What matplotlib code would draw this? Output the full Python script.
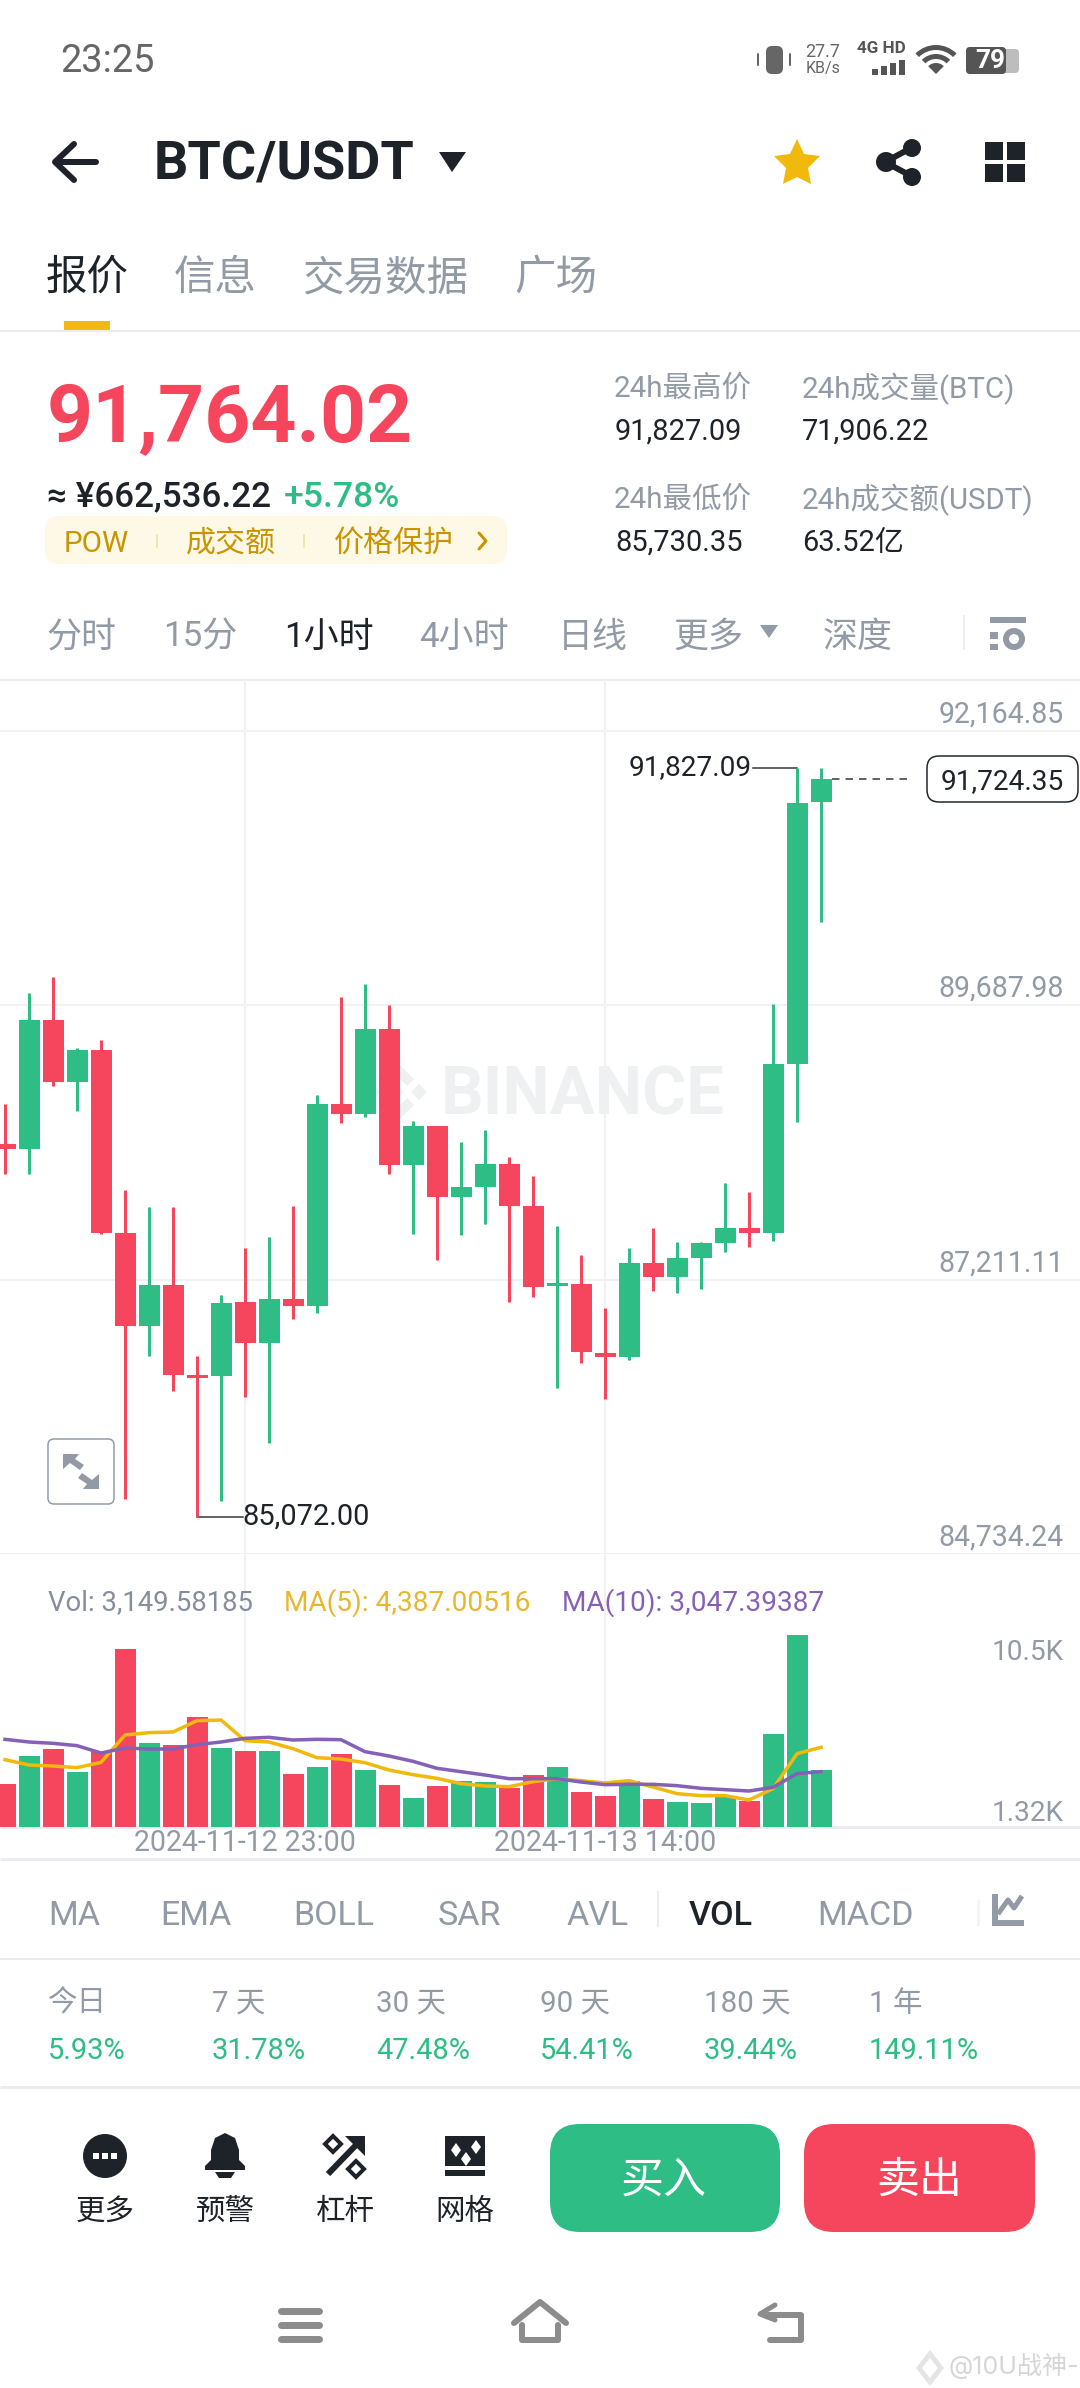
import matplotlib
matplotlib.use('Agg')
import matplotlib.pyplot as plt
from matplotlib.patches import FancyBboxPatch, Polygon, Circle, Rectangle, Wedge
from matplotlib.transforms import blended_transform_factory, ScaledTranslation

# candles, left to right
opens = [88430, 88389, 89549, 88992, 89286, 87634, 86793, 87158, 86353, 86338, 87006, 86641,
         87031, 86976, 88799, 88708, 89473, 88247, 88592, 87958, 88045, 88257, 87872, 87148,
         87173, 86550, 86510, 87356, 87234, 87406, 87543, 87675, 87634, 89154, 91520]
closes = [88389, 89549, 88992, 89281, 87634, 86793, 87158, 86353, 86322, 87001, 86641, 87031,
          86976, 88799, 88708, 89473, 88247, 88592, 87958, 88045, 88257, 87872, 87143, 87178,
          86555, 86510, 87356, 87234, 87401, 87538, 87675, 87634, 89154, 91515, 91727]
highs = [88799, 89797, 89944, 89296, 89372, 88019, 87862, 87862, 86520, 87072, 87492, 87599,
         87877, 88875, 89762, 89873, 89686, 88637, 88592, 88450, 88561, 88318, 88146, 87695,
         87432, 86950, 87492, 87680, 87553, 87553, 88080, 87999, 89696, 91827.09, 91829]
lows = [88166, 88166, 88961, 88728, 87624, 85233, 86525, 86206, 85072, 85213, 86150, 85735,
        86854, 86910, 88622, 88678, 88166, 87619, 87386, 87609, 87715, 87011, 87052, 86231,
        86454, 86135, 86484, 87107, 87087, 87128, 87457, 87508, 87558, 88632, 90436]
volumes = [2362, 3882, 4266, 3003, 4120, 9759, 4614, 4523, 6024, 4358, 4175, 4193, 2930, 3314,
           4010, 3113, 2289, 1611, 2270, 2508, 2472, 2124, 2875, 3314, 1941, 1685, 2545, 1520,
           1392, 1318, 1630, 1410, 5108, 10528, 3150]
ma5 = [3699, 3406, 3351, 3259, 3552, 5054, 5182, 5218, 5841, 5878, 4742, 4669, 4303, 3808, 3735,
       3534, 3131, 2875, 2673, 2380, 2252, 2216, 2490, 2655, 2545, 2417, 2545, 2197, 1831, 1721,
       1721, 1483, 2106, 4028, 4376]
ma10 = [4816, 4669, 4596, 4468, 4065, 4339, 4285, 4285, 4523, 4669, 4870, 4925, 4779, 4816, 4797,
        4138, 3900, 3607, 3223, 3039, 2856, 2655, 2655, 2655, 2472, 2325, 2344, 2344, 2270, 2124,
        2051, 1977, 2179, 2930, 3039]
price_ticks = [92164.85, 89687.98, 87211.11, 84734.24]
date_ticks = [10, 25]
date_labels = ['2024-11-12 23:00', '2024-11-13 14:00']

GREEN = '#2EBD85'
RED = '#F6465D'
DARK = '#1E2329'
GREY = '#929AA5'
W, H = 1080, 2388
FONT = ['Inter', 'Noto Sans CJK SC', 'DejaVu Sans']

fig = plt.figure(figsize=(W / 100, H / 100), dpi=100, facecolor='white')

# everything that is not the chart sits on a full page axes in pixels
ui = fig.add_axes([0, 0, 1, 1], zorder=0)
ui.set_xlim(0, W)
ui.set_ylim(H, 0)
ui.axis('off')
# second page axes above the charts, for the text that lies over the grid
top = fig.add_axes([0, 0, 1, 1], zorder=5)
top.set_xlim(0, W)
top.set_ylim(H, 0)
top.axis('off')


def px(size):
    return size * 0.72


def T(x, y, s, size, color=DARK, ha='left', weight='normal', ax=ui, family=None):
    return ax.text(x, y + 0.09 * size, s, fontsize=px(size), color=color, ha=ha, va='center', weight=weight,
                   family=family or FONT, zorder=6)


def hline(y, lw=2, color='#EAECEF'):
    ui.plot([0, W], [y, y], color=color, lw=px(lw), solid_capstyle='butt')


def poly(points, color, zorder=5):
    ui.add_patch(Polygon(points, closed=True, fc=color, ec='none', zorder=zorder))


def rect(x0, y0, x1, y1, color, zorder=5):
    ui.add_patch(Rectangle((x0, y0), x1 - x0, y1 - y0, fc=color, ec='none', zorder=zorder))


def rbox(x0, y0, x1, y1, r, fc, ec='none', lw=0, zorder=3):
    ui.add_patch(FancyBboxPatch((x0 + r, y0 + r), x1 - x0 - 2 * r, y1 - y0 - 2 * r,
                                boxstyle='round,pad=%d,rounding_size=%d' % (r, r),
                                fc=fc, ec=ec, lw=lw, zorder=zorder))


def stroke(xs, ys, color, lw, cap='round'):
    ui.plot(xs, ys, color=color, lw=px(lw), solid_capstyle=cap, solid_joinstyle='round', zorder=5)


# status bar
T(60, 58, '23:25', 38, '#666666', family=['Roboto'])
rbox(766, 46, 783, 74, 6, '#666666', zorder=5)
stroke([758, 758], [54, 65], '#666666', 2)
stroke([790, 790], [54, 65], '#666666', 2)
T(823, 50, '27.7', 18, '#666666', ha='center', family=['Roboto'])
T(823, 67, 'KB/s', 16, '#666666', ha='center', family=['Roboto'])
T(881, 47, '4G HD', 17, '#555555', ha='center', weight='bold', family=['Roboto'])
for bx, bh in zip([872, 881, 890, 899], [6, 9, 12, 15]):
    rect(bx, 75 - bh, bx + 6, 75, '#555555')
for wr, ww in zip([29, 20, 11], [5, 5, 11]):
    ui.add_patch(Wedge((936, 74), wr, 225, 315, width=ww, fc='#555555', ec='none', zorder=5))
rbox(966, 47, 1006, 74, 4, '#555555', zorder=5)
rbox(1000, 49, 1019, 73, 4, '#BDBDBD', zorder=4)
T(990, 59, '79', 26, 'white', ha='center', weight='bold', family=['Roboto'])

# title row
stroke([96, 56], [162, 162], DARK, 6)
stroke([74, 55, 74], [144, 162, 180], DARK, 6)
T(154, 160, 'BTC/USDT', 54, DARK, weight='bold', family=['Roboto'])
poly([(439, 152), (466, 152), (452, 172)], DARK)
poly([(797, 139), (804, 154), (820, 156), (808, 168), (811, 184), (797, 177), (783, 184),
      (786, 168), (774, 156), (790, 154)], '#F0B90B')
stroke([913, 885, 913], [147, 162, 177], DARK, 6)
for cx, cy, r in [(912, 148, 9), (886, 162, 10), (912, 177, 9)]:
    ui.add_patch(Circle((cx, cy), r, fc=DARK, ec='none', zorder=5))
for x0, y0 in [(985, 142), (1007, 142), (985, 164), (1007, 164)]:
    rect(x0, y0, x0 + 18, y0 + 18, DARK)

# tabs
for x, s, c in zip([46, 174, 302, 514], ['报价', '信息', '交易数据', '广场'], [DARK, GREY, GREY, GREY]):
    T(x, 275, s, 41.5, c)
rect(64, 321, 110, 330, '#F0B90B')
hline(331)

# price block
T(47, 412, '91,764.02', 80.5, RED, weight='bold', family=['Roboto'])
T(47, 494, '≈ ¥662,536.22', 35, DARK, weight='medium', family=['Roboto'])
T(284, 494, '+5.78%', 35.5, GREEN, weight='medium', family=['Roboto'])
rbox(45, 516, 507, 564, 14, '#FEF8E6')
gold = '#C99400'
T(64, 541, 'POW', 29.5, gold, family=['Roboto'])
T(186, 541, '成交额', 30, gold)
T(334, 541, '价格保护', 30, gold)
stroke([157, 157], [535, 547], '#F3E3B0', 2)
stroke([304, 304], [535, 547], '#F3E3B0', 2)
stroke([479, 486, 479], [533, 541, 549], gold, 3)

stat_font = ['Roboto', 'Noto Sans CJK SC']
T(614, 386, '24h最高价', 29.5, GREY, family=stat_font)
T(802, 386, '24h成交量(BTC)', 29.5, GREY, family=stat_font)
T(615, 429, '91,827.09', 29, DARK, family=stat_font)
T(802, 429, '71,906.22', 29, DARK, family=stat_font)
T(614, 497, '24h最低价', 29.5, GREY, family=stat_font)
T(802, 497, '24h成交额(USDT)', 29.5, GREY, family=stat_font)
T(615, 540, '85,730.35', 29, DARK, family=stat_font)
T(802, 540, '63.52亿', 29, DARK, family=stat_font)

# interval row
for x, s, c in zip([46, 163, 284, 419, 558, 673, 823],
                   ['分时', '15分', '1小时', '4小时', '日线', '更多', '深度'],
                   [GREY, GREY, DARK, GREY, GREY, GREY, GREY]):
    T(x, 634, s, 35, c, family=stat_font)
poly([(760, 625), (778, 625), (769, 638)], GREY)
stroke([964, 964], [615, 650], '#EAECEF', 2, cap='butt')
rect(990, 617, 1026, 623, GREY)
rect(990, 632, 998, 639, GREY)
rect(990, 644, 998, 650, GREY)
ui.add_patch(Circle((1014, 639), 8, fc='none', ec=GREY, lw=px(6), zorder=5))
hline(680)

# watermark goes under the candles
wm = '#EEF0F1'
poly([(396, 1061), (414, 1079), (407, 1086), (396, 1075), (385, 1086), (378, 1079)], wm)
poly([(396, 1123), (414, 1105), (407, 1098), (396, 1109), (385, 1098), (378, 1105)], wm)
for cx in [373, 396, 419]:
    poly([(cx, 1084), (cx + 8, 1092), (cx, 1100), (cx - 8, 1092)], wm)
T(441, 1090, 'BINANCE', 67, wm, weight='bold', family=['Roboto'])

# price chart
x_left = -5 / 24
x_right = (W - 5) / 24
per_px = 2476.87 / 274.5
ax = fig.add_axes([0, 1 - 1554 / H, 1, 874 / H], zorder=2)
ax.patch.set_alpha(0)
ax.set_xlim(x_left, x_right)
ax.set_ylim(price_ticks[-1], price_ticks[-1] + 874 * per_px)
for side in ax.spines.values():
    side.set_visible(False)
ax.set_xticks(date_ticks)
ax.set_yticks(price_ticks)
ax.set_yticklabels(['%s' % format(v, ',.2f') for v in price_ticks], family=['Roboto'])
ax.yaxis.tick_right()
ax.tick_params(axis='y', length=0, pad=px(-16), labelsize=px(28.5), labelcolor=GREY)
ax.tick_params(axis='x', length=0, labelbottom=False)
raise_px = ScaledTranslation(0, 2 / 100, fig.dpi_scale_trans)
for lab in ax.get_yticklabels():
    lab.set_ha('right')
    lab.set_va('bottom')
    lab.set_transform(lab.get_transform() + raise_px)
ax.grid(True, color='#F0F1F3', lw=px(2))
ax.set_axisbelow(True)

for i in range(len(opens)):
    col = GREEN if closes[i] >= opens[i] else RED
    ax.vlines(i, lows[i], highs[i], color=col, lw=px(3), zorder=3)
    ax.bar(i, abs(closes[i] - opens[i]), bottom=min(opens[i], closes[i]), width=0.875, color=col,
           lw=0, zorder=4)

# high / low / last price markers
hi = highs[33]
lo = lows[8]
last = 91724.35
ax.plot([31.15, 33], [hi, hi], color='#333333', lw=px(1.5), zorder=2)
ax.text(31.1, hi, format(hi, ',.2f'), ha='right', va='center', fontsize=px(28), color=DARK,
        family=['Roboto'], zorder=5)
ax.plot([8, 9.9], [lo, lo], color='#333333', lw=px(1.5), zorder=2)
ax.text(9.9, lo, format(lo, ',.2f'), ha='left', va='center', fontsize=px(29), color=DARK,
        family=['Roboto'], zorder=5)
ax.plot([34.45, 37.7], [last, last], color='#333333', lw=px(1.5), ls=(0, (5, 4)), zorder=2)
rbox(927, 756, 1078, 802, 12, 'white', ec=DARK, lw=px(1.5), zorder=1)
T(1064, 779, format(last, ',.2f'), 28, DARK, ha='right', family=['Roboto'])

# expand button
rbox(48, 1439, 114, 1504, 6, 'white', ec=GREY, lw=px(1.5), zorder=1)
poly([(63, 1454), (79, 1454), (75, 1459), (84, 1465), (80, 1470), (70, 1463), (63, 1469)], GREY)
poly([(99, 1489), (83, 1489), (87, 1484), (78, 1478), (82, 1473), (92, 1480), (99, 1474)], GREY)

# volume chart
vol_per_px = 54.93
axv = fig.add_axes([0, 1 - 1827 / H, 1, 273 / H], zorder=2)
axv.patch.set_alpha(0)
axv.set_xlim(x_left, x_right)
axv.set_ylim(0, 273 * vol_per_px)
for side in axv.spines.values():
    side.set_visible(False)
axv.set_yticks([])
axv.set_xticks(date_ticks)
axv.set_xticklabels(date_labels, family=['Roboto'])
axv.tick_params(axis='x', length=0, pad=px(2), labelsize=px(28.5), labelcolor=GREY)
axv.grid(True, axis='x', color='#F0F1F3', lw=px(2))
axv.set_axisbelow(True)
vol_colors = [GREEN if c >= o else RED for o, c in zip(opens, closes)]
axv.bar(range(len(volumes)), volumes, width=0.875, color=vol_colors, lw=0, zorder=2)
axv.plot(range(len(ma5)), ma5, color='#F0B90B', lw=px(3.5), zorder=3)
axv.plot(range(len(ma10)), ma10, color='#8561B5', lw=px(3.5), zorder=4)
tr = blended_transform_factory(ui.transData, axv.transData)
axv.text(1064, max(volumes) - 4 * vol_per_px, '10.5K', transform=tr, ha='right', va='top', fontsize=px(28),
         color=GREY, family=['Roboto'])
axv.text(1064, 0, '1.32K', transform=tr, ha='right', va='bottom', fontsize=px(28), color=GREY,
         family=['Roboto'])
hline(1827, lw=3)
hline(1859, lw=3)

T(48, 1600, 'Vol: 3,149.58185', 27.5, '#848E9C', ax=top, family=['Roboto'])
T(284, 1600, 'MA(5): 4,387.00516', 28, '#E8B72E', ax=top, family=['Roboto'])
T(562, 1600, 'MA(10): 3,047.39387', 28, '#8561B5', ax=top, family=['Roboto'])

# indicator row
for x, s, c in zip([48, 160, 293, 438, 566, 689, 817],
                   ['MA', 'EMA', 'BOLL', 'SAR', 'AVL', 'VOL', 'MACD'],
                   [GREY, GREY, GREY, GREY, GREY, DARK, GREY]):
    T(x, 1913, s, 34, c, weight='medium' if s == 'VOL' else 'normal', family=['Roboto'])
stroke([658, 658], [1891, 1927], '#EAECEF', 2, cap='butt')
stroke([978, 978], [1900, 1926], '#F2F3F5', 3, cap='butt')
rect(992, 1920, 1024, 1926, GREY)
rect(992, 1894, 998, 1926, GREY)
stroke([998, 1008, 1014, 1022], [1914, 1900, 1908, 1896], GREY, 5, cap='butt')
hline(1959)

# period returns
for x, s, v in zip([48, 212, 376, 540, 704, 869],
                   ['今日', '7 天', '30 天', '90 天', '180 天', '1 年'],
                   ['5.93%', '31.78%', '47.48%', '54.41%', '39.44%', '149.11%']):
    T(x, 2001, s, 29.5, GREY, family=stat_font)
    T(x, 2048, v, 29, GREEN, family=stat_font)
hline(2087, lw=3)

# bottom actions
ui.add_patch(Circle((105, 2156), 22, fc=DARK, ec='none', zorder=5))
for dx in [-9, 0, 9]:
    rect(105 + dx - 3, 2153, 105 + dx + 3, 2159, 'white', zorder=6)
poly([(225, 2133), (235, 2138), (239, 2150), (239, 2160), (245, 2166), (245, 2170), (205, 2170),
      (205, 2166), (211, 2160), (211, 2150), (215, 2138)], DARK)
poly([(215, 2172), (235, 2172), (231, 2178), (219, 2178)], DARK)
stroke([328, 358], [2174, 2143], DARK, 6, cap='butt')
poly([(345, 2136), (365, 2136), (365, 2156)], DARK)
for cx, cy in [(333, 2144), (356, 2169)]:
    ui.add_patch(Polygon([(cx, cy - 8), (cx + 8, cy), (cx, cy + 8), (cx - 8, cy)], closed=True,
                         fc='white', ec=DARK, lw=px(4), zorder=6))
rect(445, 2136, 485, 2166, DARK)
for gx, gy in [(456, 2150), (466, 2159), (476, 2147)]:
    poly([(gx, gy - 7), (gx + 5, gy), (gx, gy + 7), (gx - 5, gy)], 'white', zorder=6)
rect(445, 2170, 485, 2176, DARK)
for x, s in zip([105, 225, 345, 465], ['更多', '预警', '杠杆', '网格']):
    T(x, 2210, s, 29.5, DARK, ha='center')
rbox(550, 2124, 780, 2232, 30, GREEN)
rbox(804, 2124, 1035, 2232, 30, RED)
T(664, 2177, '买入', 43, 'white', ha='center')
T(919, 2177, '卖出', 43, 'white', ha='center')

# nav bar
nav = '#8C8C8C'
for y in [2311, 2325, 2339]:
    stroke([281, 319], [y, y], nav, 7)
stroke([514, 540, 566], [2323, 2302, 2323], nav, 6)
stroke([522, 522, 558, 558], [2325, 2340, 2340, 2325], nav, 6)
stroke([768, 801, 801, 770], [2315, 2315, 2340, 2340], nav, 6)
stroke([775, 760, 775], [2305, 2314, 2320], nav, 5)

# source stamp
poly([(930, 2350), (944, 2368), (930, 2386), (916, 2368)], '#E4E4E4', zorder=4)
poly([(930, 2358), (938, 2368), (930, 2378), (922, 2368)], 'white', zorder=4)
T(949, 2364, '@10U战神-', 25, '#D6D6D6')

fig.savefig('out.png', dpi=100)
